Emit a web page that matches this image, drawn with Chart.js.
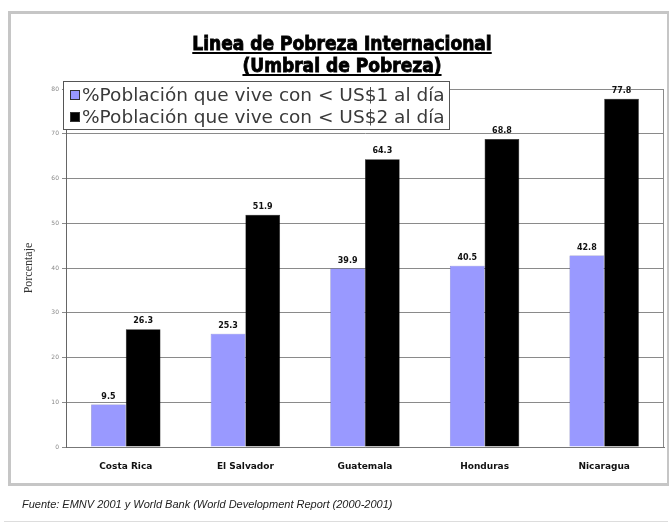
<!DOCTYPE html>
<html>
<head>
<meta charset="utf-8">
<script src="https://cdn.jsdelivr.net/npm/chart.js@4.4.0/dist/chart.umd.min.js"></script>
<style>
  html, body { margin: 0; padding: 0; background: #fff; }
  #wrap { position: relative; width: 670px; height: 529px; overflow: hidden; }
  #frame { position: absolute; left: 8px; top: 11px; width: 656px; height: 469px; border: 3px solid #c6c6c6; border-right-width: 2px; }
  #chart { position: absolute; left: 0; top: 0; }
  #footer { position: absolute; left: 22px; top: 498px; font: italic 11px "Liberation Sans", Arial, sans-serif; color: #222; }
  #footline { position: absolute; left: 4px; top: 521px; width: 664px; height: 1px; background: #ddd; }
</style>
</head>
<body>
<div id="wrap">
  <div id="frame"></div>
  <canvas id="chart" width="670" height="529"></canvas>
  <div id="footer">Fuente: EMNV 2001 y World Bank (World Development Report (2000-2001)</div>
  <div id="footline"></div>
</div>
<script>
// Datos
const countries = ['Costa Rica', 'El Salvador', 'Guatemala', 'Honduras', 'Nicaragua'];
const menos1 = [9.5, 25.3, 39.9, 40.5, 42.8];
const menos2 = [26.3, 51.9, 64.3, 68.8, 77.8];
const seriesNames = ['%Población que vive con < US$1 al día', '%Población que vive con < US$2 al día'];
const titleLines = ['Linea de Pobreza Internacional', '(Umbral de Pobreza)'];

// title with underline
const titlePlugin = {
  id: 'titleUnderline',
  afterDraw(chart) {
    const ctx = chart.ctx;
    ctx.save();
    ctx.font = 'bold 19px "DejaVu Sans Condensed", "Liberation Sans Narrow", sans-serif';
    ctx.fillStyle = '#000';
    ctx.strokeStyle = '#000';
    ctx.textAlign = 'center';
    ctx.textBaseline = 'alphabetic';
    const cx = 342;
    [50, 72].forEach((y, i) => {
      const t = titleLines[i];
      ctx.lineWidth = 0.8;
      ctx.fillText(t, cx, y);
      ctx.strokeText(t, cx, y);
      const w = ctx.measureText(t).width;
      ctx.lineWidth = 2;
      ctx.beginPath();
      ctx.moveTo(cx - w / 2, y + 3);
      ctx.lineTo(cx + w / 2, y + 3);
      ctx.stroke();
    });
    ctx.restore();
  }
};

// border round the plot area
const plotBorder = {
  id: 'plotBorder',
  beforeDatasetsDraw(chart) {
    const a = chart.chartArea;
    const ctx = chart.ctx;
    ctx.save();
    ctx.strokeStyle = '#8a8a8a';
    ctx.lineWidth = 1;
    ctx.beginPath();
    ctx.moveTo(a.left, a.top + 0.5);
    ctx.lineTo(a.right - 0.5, a.top + 0.5);
    ctx.lineTo(a.right - 0.5, a.bottom);
    ctx.stroke();
    ctx.restore();
  }
};

// values above bars
const valueLabels = {
  id: 'valueLabels',
  afterDatasetsDraw(chart) {
    const ctx = chart.ctx;
    ctx.save();
    ctx.font = 'bold 8px "DejaVu Sans", sans-serif';
    ctx.fillStyle = '#111';
    ctx.textAlign = 'center';
    ctx.textBaseline = 'bottom';
    chart.data.datasets.forEach((ds, di) => {
      chart.getDatasetMeta(di).data.forEach((bar, i) => {
        ctx.fillText(ds.data[i].toFixed(1), bar.x, bar.y - 4);
      });
    });
    ctx.restore();
  }
};

// legend box over the plot
const boxLegend = {
  id: 'boxLegend',
  afterDraw(chart) {
    const ctx = chart.ctx;
    ctx.save();
    ctx.fillStyle = '#fff';
    ctx.fillRect(63, 81, 386, 48);
    ctx.strokeStyle = '#555';
    ctx.lineWidth = 1;
    ctx.strokeRect(63.5, 81.5, 386, 48);
    ctx.font = '18.5px "DejaVu Sans", sans-serif';
    ctx.textBaseline = 'middle';
    chart.data.datasets.forEach((ds, i) => {
      const y = 95 + i * 22;
      ctx.fillStyle = ds.backgroundColor;
      ctx.fillRect(70, y - 5, 10, 10);
      ctx.strokeStyle = '#333';
      ctx.strokeRect(70.5, y - 4.5, 9, 9);
      ctx.fillStyle = '#3a3a3a';
      ctx.fillText(ds.label, 82, y + 1);
    });
    ctx.restore();
  }
};

new Chart(document.getElementById('chart'), {
  type: 'bar',
  data: {
    labels: countries,
    datasets: [
      { label: seriesNames[0], data: menos1, backgroundColor: '#9999ff', borderColor: '#5555aa', borderWidth: 0.5 },
      { label: seriesNames[1], data: menos2, backgroundColor: '#000000', borderColor: '#000', borderWidth: 0.5 }
    ]
  },
  options: {
    responsive: false,
    animation: false,
    layout: { padding: { left: 20, right: 6, top: 89, bottom: 52 } },
    categoryPercentage: 0.58,
    barPercentage: 1.0,
    plugins: {
      legend: { display: false },
      title: { display: false },
      tooltip: { enabled: false }
    },
    scales: {
      x: {
        grid: { display: false },
        border: { color: '#777' },
        ticks: { color: '#111', font: { family: '"DejaVu Sans", sans-serif', size: 9, weight: 'bold' }, padding: 6 },
        afterFit(s) { s.height = 30; }
      },
      y: {
        min: 0,
        max: 80,
        ticks: { stepSize: 10, color: '#888', font: { family: '"DejaVu Sans", sans-serif', size: 6 }, padding: 3 },
        grid: { color: '#8a8a8a', lineWidth: 1, tickLength: 4, drawTicks: true },
        border: { color: '#666' },
        title: { display: true, text: 'Porcentaje', color: '#333', font: { family: '"Liberation Serif", serif', size: 12 }, padding: 2 },
        afterFit(s) { s.width = 46; }
      }
    }
  },
  plugins: [plotBorder, valueLabels, titlePlugin, boxLegend]
});
</script>
</body>
</html>
